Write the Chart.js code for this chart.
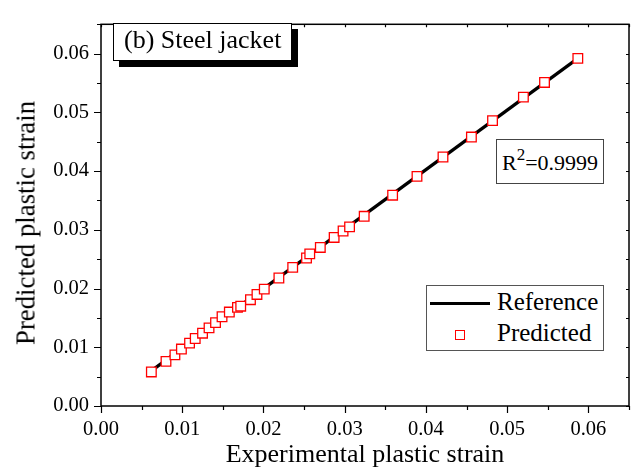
<!DOCTYPE html>
<html lang="en">
<head>
    <meta charset="UTF-8">
    <title>Steel jacket - predicted vs experimental plastic strain</title>
    <script src="https://cdn.jsdelivr.net/npm/chart.js"></script>
    <style>
        body {
            margin: 0;
            background: #fff;
            font-family: "Liberation Serif", "Times New Roman", serif;
        }

        .wrap {
            position: relative;
            width: 640px;
            height: 471px;
        }

        .note {
            position: absolute;
            background: #fff;
            color: #000;
            box-sizing: border-box;
            white-space: nowrap;
        }

        /* "(b) Steel jacket" with the drop shadow */
        #panelTitle {
            left: 113px;
            top: 23px;
            width: 179px;
            height: 38px;
            border: 1px solid #000;
            box-shadow: 6px 6px 0 #000;
            font-size: 26px;
            line-height: 32px;
            padding-left: 10px;
        }

        #r2Box {
            left: 496px;
            top: 139px;
            width: 108px;
            height: 45px;
            border: 1px solid #444;
            font-size: 22px;
            line-height: 46px;
            padding-left: 5px;
        }

        #r2Box sup {
            font-size: 17px;
            vertical-align: 10px;
            line-height: 0;
        }

        /* y axis title, placed by hand because it sits a bit below the plot centre */
        #yTitle {
            position: absolute;
            left: 26px;
            top: 223px;
            transform: translate(-50%, -50%) rotate(-90deg);
            font-size: 26.8px;
            white-space: nowrap;
        }

        #legend {
            left: 426px;
            top: 285px;
            width: 178px;
            height: 66px;
            border: 1px solid #555;
            font-size: 25px;
        }

        .leg-row {
            position: absolute;
            left: 0;
            width: 100%;
            height: 30px;
            line-height: 30px;
        }

        .leg-line {
            position: absolute;
            left: 3px;
            top: 15px;
            width: 60px;
            height: 3px;
            background: #000;
        }

        .leg-box {
            position: absolute;
            left: 28px;
            top: 12px;
            width: 8px;
            height: 8px;
            border: 1.5px solid #ff0000;
            background: #fff;
        }

        .leg-text {
            position: absolute;
            left: 70px;
        }
    </style>
</head>
<body>
    <div class="wrap">
        <canvas id="strainChart"></canvas>
        <div id="yTitle"></div>
        <div class="note" id="panelTitle">(b) Steel jacket</div>
        <div class="note" id="r2Box">R<sup>2</sup>=0.9999</div>
        <div class="note" id="legend"></div>
    </div>

    <script>
        // values
        var expStrain = [0.0062, 0.0080, 0.0091, 0.0099, 0.0109, 0.0116, 0.0125, 0.0133, 0.0141, 0.0149,
            0.0158, 0.0168, 0.0172, 0.0184, 0.0192, 0.0201, 0.0219, 0.0236, 0.0253, 0.0257,
            0.0270, 0.0287, 0.0298, 0.0306, 0.0324, 0.0359, 0.0389, 0.0421, 0.0456, 0.0482,
            0.0520, 0.0546, 0.0587];
        var predStrain = [0.0058, 0.0076, 0.0087, 0.0097, 0.0107, 0.0115, 0.0124, 0.0133, 0.0142, 0.0152,
            0.0160, 0.0168, 0.0170, 0.0181, 0.0190, 0.0199, 0.0218, 0.0236, 0.0252, 0.0259,
            0.0270, 0.0287, 0.0298, 0.0305, 0.0323, 0.0359, 0.0391, 0.0424, 0.0458, 0.0486,
            0.0526, 0.0551, 0.0592];
        var refX = [0.0064, 0.0587];
        var refY = [0.0062, 0.0592];
        var tickLabels = ['0.00', '0.01', '0.02', '0.03', '0.04', '0.05', '0.06'];
        var xTitle = 'Experimental plastic strain';
        var yTitle = 'Predicted plastic strain';
        var axisMax = 0.065;
        var minorStep = 0.005;

        Chart.defaults.font.family = '"Liberation Serif", "Times New Roman", serif';
        Chart.defaults.color = '#000';

        function pairs(xs, ys) {
            return xs.map(function (x, i) { return { x: x, y: ys[i] }; });
        }

        function tickText(value, index) {
            // only every other tick (0.01 steps) gets a label
            return index % 2 === 0 ? tickLabels[index / 2] : '';
        }

        // frame and tick marks like the original (outer ticks left/bottom, small inner ticks top/right)
        var framePlugin = {
            id: 'frame',
            afterDraw: function (chart) {
                var ctx = chart.ctx;
                var a = chart.chartArea;
                var xs = chart.scales.x;
                var ys = chart.scales.y;
                ctx.save();
                ctx.strokeStyle = '#000';
                ctx.lineWidth = 1.5;
                ctx.strokeRect(a.left, a.top, a.right - a.left, a.bottom - a.top);
                ctx.lineWidth = 1.2;
                ctx.beginPath();
                xs.ticks.forEach(function (t, i) {
                    var px = Math.round(xs.getPixelForValue(t.value)) + 0.5;
                    var len = i % 2 === 0 ? 7 : 4;
                    ctx.moveTo(px, a.bottom);
                    ctx.lineTo(px, a.bottom + len);
                    ctx.moveTo(px, a.top);
                    ctx.lineTo(px, a.top + 3);
                });
                ys.ticks.forEach(function (t, i) {
                    var py = Math.round(ys.getPixelForValue(t.value)) + 0.5;
                    var len = i % 2 === 0 ? 7 : 4;
                    ctx.moveTo(a.left, py);
                    ctx.lineTo(a.left - len, py);
                    ctx.moveTo(a.right, py);
                    ctx.lineTo(a.right - 3, py);
                });
                ctx.stroke();
                ctx.restore();
            }
        };

        var ctx = document.getElementById('strainChart').getContext('2d');
        var strainChart = new Chart(ctx, {
            type: 'scatter',
            data: {
                datasets: [{
                    label: 'Reference',
                    data: pairs(refX, refY),
                    showLine: true,
                    borderColor: '#000',
                    borderWidth: 3.2,
                    pointRadius: 0,
                    order: 2
                }, {
                    label: 'Predicted',
                    data: pairs(expStrain, predStrain),
                    pointStyle: 'rect',
                    pointRadius: 6.8,
                    borderColor: '#ff0000',
                    backgroundColor: '#fff',
                    borderWidth: 1.3,
                    order: 1
                }]
            },
            options: {
                responsive: true,
                maintainAspectRatio: false,
                animation: false,
                layout: {
                    padding: { top: 12, right: 3, left: 0, bottom: 0 }
                },
                plugins: {
                    legend: { display: false },
                    tooltip: { enabled: false }
                },
                scales: {
                    x: {
                        type: 'linear',
                        min: 0,
                        max: axisMax,
                        grid: { display: false, drawTicks: false },
                        border: { display: false },
                        ticks: {
                            stepSize: minorStep,
                            autoSkip: false,
                            maxRotation: 0,
                            padding: 11,
                            font: { size: 20.5 },
                            callback: tickText
                        },
                        title: {
                            display: true,
                            text: xTitle,
                            font: { size: 26 },
                            padding: { top: 0, bottom: 0 }
                        },
                        afterFit: function (scale) { scale.height = 65; }
                    },
                    y: {
                        type: 'linear',
                        min: 0,
                        max: axisMax,
                        grid: { display: false, drawTicks: false },
                        border: { display: false },
                        ticks: {
                            stepSize: minorStep,
                            autoSkip: false,
                            padding: 12,
                            font: { size: 20.5 },
                            callback: tickText
                        },
                        afterFit: function (scale) { scale.width = 101; }
                    }
                }
            },
            plugins: [framePlugin]
        });

        document.getElementById('yTitle').textContent = yTitle;

        // legend box built from the dataset labels
        var legend = document.getElementById('legend');
        strainChart.data.datasets.forEach(function (ds, i) {
            var row = document.createElement('div');
            row.className = 'leg-row';
            row.style.top = (1 + i * 31) + 'px';
            var mark = document.createElement('span');
            mark.className = ds.showLine ? 'leg-line' : 'leg-box';
            var txt = document.createElement('span');
            txt.className = 'leg-text';
            txt.textContent = ds.label;
            row.appendChild(mark);
            row.appendChild(txt);
            legend.appendChild(row);
        });
    </script>
</body>
</html>
